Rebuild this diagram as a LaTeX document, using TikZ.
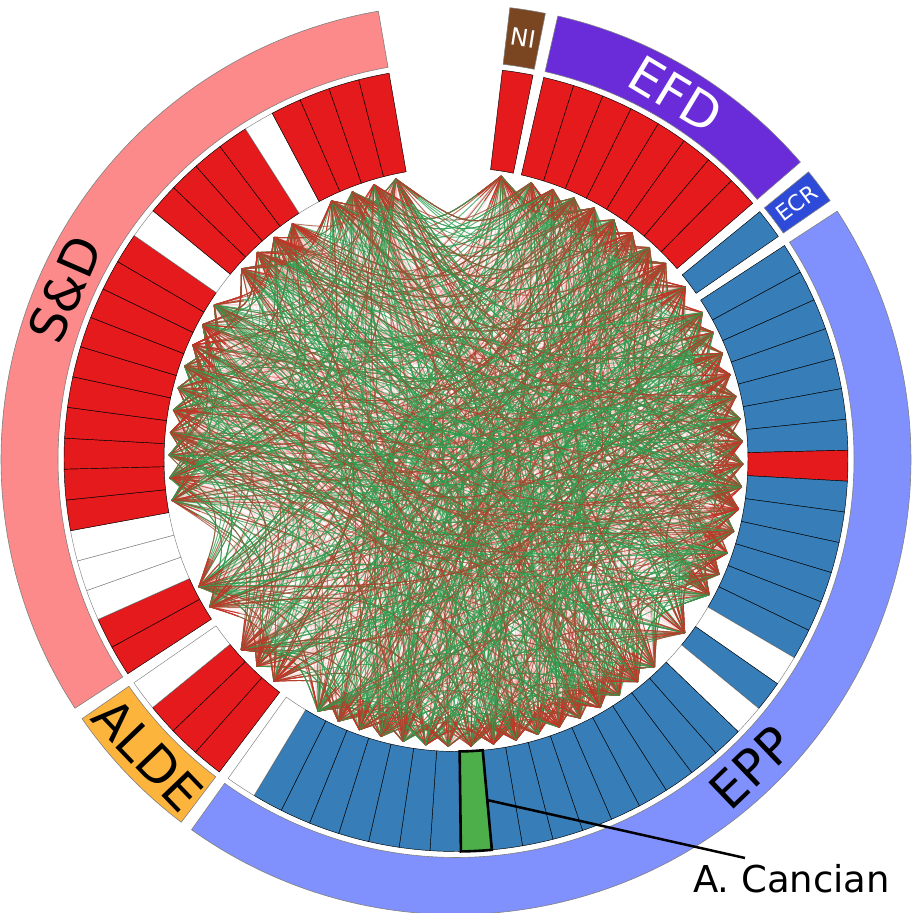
\documentclass[tikz,border=0pt]{standalone}
\usepackage{fontspec}
\setmainfont{DejaVu Sans}
\usetikzlibrary{calc}
\definecolor{cred}{HTML}{E41A1C}
\definecolor{cblue}{HTML}{377EB8}
\definecolor{cgreen}{HTML}{4DAF4A}
\definecolor{sdc}{HTML}{FC8A8A}
\definecolor{efdc}{HTML}{6A2BD9}
\definecolor{nic}{HTML}{7A4521}
\definecolor{ecrc}{HTML}{2D4BD8}
\definecolor{eppc}{HTML}{8091FE}
\definecolor{aldec}{HTML}{FDB43C}
\definecolor{egreen}{HTML}{2E9E4F}
\definecolor{ebrown}{HTML}{A8452E}
\definecolor{ered}{HTML}{D42A24}
\definecolor{epink}{HTML}{E8585A}
\newcount\vcount
\def\wcol{white}
\def\Wd{4.532}
\newcommand\partycells[2]{%
  \foreach \col [count=\k from 0] in {#2}{%
    \pgfmathsetmacro\angA{90-(#1)-\k*\Wd}%
    \pgfmathsetmacro\angB{\angA-\Wd}%
    \ifx\col\wcol
      \draw[whitecell] (\angA:292pt) arc[start angle=\angA, end angle=\angB, radius=292pt] -- (\angB:392pt) arc[start angle=\angB, end angle=\angA, radius=392pt] -- cycle;
    \else
      \draw[cellbox, fill=\col] (\angA:292pt) arc[start angle=\angA, end angle=\angB, radius=292pt] -- (\angB:392pt) arc[start angle=\angB, end angle=\angA, radius=392pt] -- cycle;
      \global\advance\vcount by 1\relax
      \pgfmathsetmacro\angM{\angA-\Wd/2}%
      \coordinate (v\the\vcount) at (\angM:287pt);
    \fi
  }%
}
\newcommand\partyband[6]{%
  \pgfmathsetmacro\angA{90-(#1)}%
  \pgfmathsetmacro\angB{\angA-#2*\Wd}%
  \draw[bandbox, fill=#3] (\angA:398pt) arc[start angle=\angA, end angle=\angB, radius=398pt] -- (\angB:455pt) arc[start angle=\angB, end angle=\angA, radius=455pt] -- cycle;
  \pgfmathsetmacro\angM{(\angA+\angB)/2}%
  \node[#5] (#6) at (\angM:426.5pt) {#4};
}
\newcommand\biglab{\fontsize{50}{60}\selectfont}
\begin{document}
\begin{tikzpicture}[x=1pt,y=1pt,
  cellbox/.style={draw=black, line width=0.45pt},
  whitecell/.style={draw=gray, fill=white, line width=0.45pt},
  bandbox/.style={draw=gray, line width=0.6pt},
  strong/.style={line width=0.95pt, opacity=0.75},
  tipred/.style={draw=ered, line width=0.95pt, opacity=0.8, dash pattern=on 30pt off 3000pt},
  faint/.style={draw=epink, line width=1pt, opacity=0.15}]
\fill[white] (0,0) rectangle (913,913);
\useasboundingbox (0,0) rectangle (913,913);
\begin{scope}[shift={(456,453.5)}]
% cells (clockwise order)
\partycells{6.8}{cred}
\partycells{12.932}{cred,cred,cred,cred,cred,cred,cred,cred}
\partycells{50.788}{cblue}
\partycells{56.92}{cblue,cblue,cblue,cblue,cblue,cblue,cblue,cred,cblue,cblue,cblue,cblue,cblue,cblue,white,cblue,white,cblue,cblue,cblue,cblue,cblue,cblue,cblue,cblue,cblue,cgreen,cblue,cblue,cblue,cblue,cblue,cblue,cblue,white}
\partycells{217.14}{cred,cred,cred,white}
\partycells{236.868}{cred,cred,white,white,white,cred,cred,cred,cred,cred,cred,cred,cred,cred,cred,white,cred,cred,cred,cred,white,cred,cred,cred,cred}
% party bands
\partyband{6.8}{1}{nic}{NI}{rotate=-9.07,text=white,font=\fontsize{24}{26}\selectfont}{lni}
\partyband{12.932}{8}{efdc}{EFD}{rotate=-31.06,text=white,font=\biglab}{lefd}
\partyband{50.788}{1}{ecrc}{ECR}{rotate=36.95,text=white,font=\fontsize{22}{24}\selectfont}{lecr}
\partyband{56.92}{35}{eppc}{EPP}{rotate=43.77,text=black,font=\biglab}{lepp}
\partyband{217.14}{4}{aldec}{ALDE}{rotate=-46.2,text=black,font=\biglab}{lalde}
\partyband{236.868}{25}{sdc}{S\&D}{rotate=66.48,text=black,font=\biglab}{lsd}
% edges
\pgfmathsetseed{4321}
\foreach \t in {1,...,800}{
  \pgfmathtruncatemacro\i{min(65,1+int(rnd*65))}
  \pgfmathtruncatemacro\off{12+int(rnd*20)}
  \pgfmathtruncatemacro\j{mod(\i-1+\off,65)+1}
  \path ($(v\i)!0.5!(v\j)$) coordinate (m);
  \path ($(m)!0.3!-90:(v\j)$) coordinate (c);
  \draw[faint] (v\i) .. controls (c) .. (v\j);
}
\foreach \i in {1,...,65}{
  \foreach \t in {1,...,20}{
    \pgfmathtruncatemacro\off{3+int(29*rnd^1.7)}
    \pgfmathtruncatemacro\j{mod(\i-1+\off,65)+1}
    \path ($(v\i)!0.5!(v\j)$) coordinate (m);
    \path ($(m)!0.62!-90:(v\j)$) coordinate (c);
    \pgfmathsetmacro\pa{rnd}
    \pgfmathsetmacro\pb{rnd}
    \ifdim\pa pt<0.6pt\def\ecol{egreen}\else\def\ecol{ebrown}\fi
    \ifdim\pb pt<0.5pt
      \draw[strong, draw=\ecol] (v\i) .. controls (c) .. (v\j);
      \draw[tipred] (v\j) .. controls (c) .. (v\i);
    \else
      \draw[strong, draw=\ecol] (v\j) .. controls (c) .. (v\i);
      \draw[tipred] (v\i) .. controls (c) .. (v\j);
    \fi
  }
}
% highlighted member
\draw[line width=2.6pt, black] (-84.752:292pt) arc[start angle=-84.752, end angle=-89.284, radius=292pt] -- (-89.284:392pt) arc[start angle=-89.284, end angle=-84.752, radius=392pt] -- cycle;
\coordinate (gc) at (-84.752:342pt);
\end{scope}
\node[anchor=base west, font=\fontsize{37}{40}\selectfont, inner sep=0pt] (cancian) at (693,20) {A. Cancian};
\coordinate (lend) at (745,55);
\draw[line width=2.5pt, black] (gc) -- (lend);
\end{tikzpicture}
\end{document}
